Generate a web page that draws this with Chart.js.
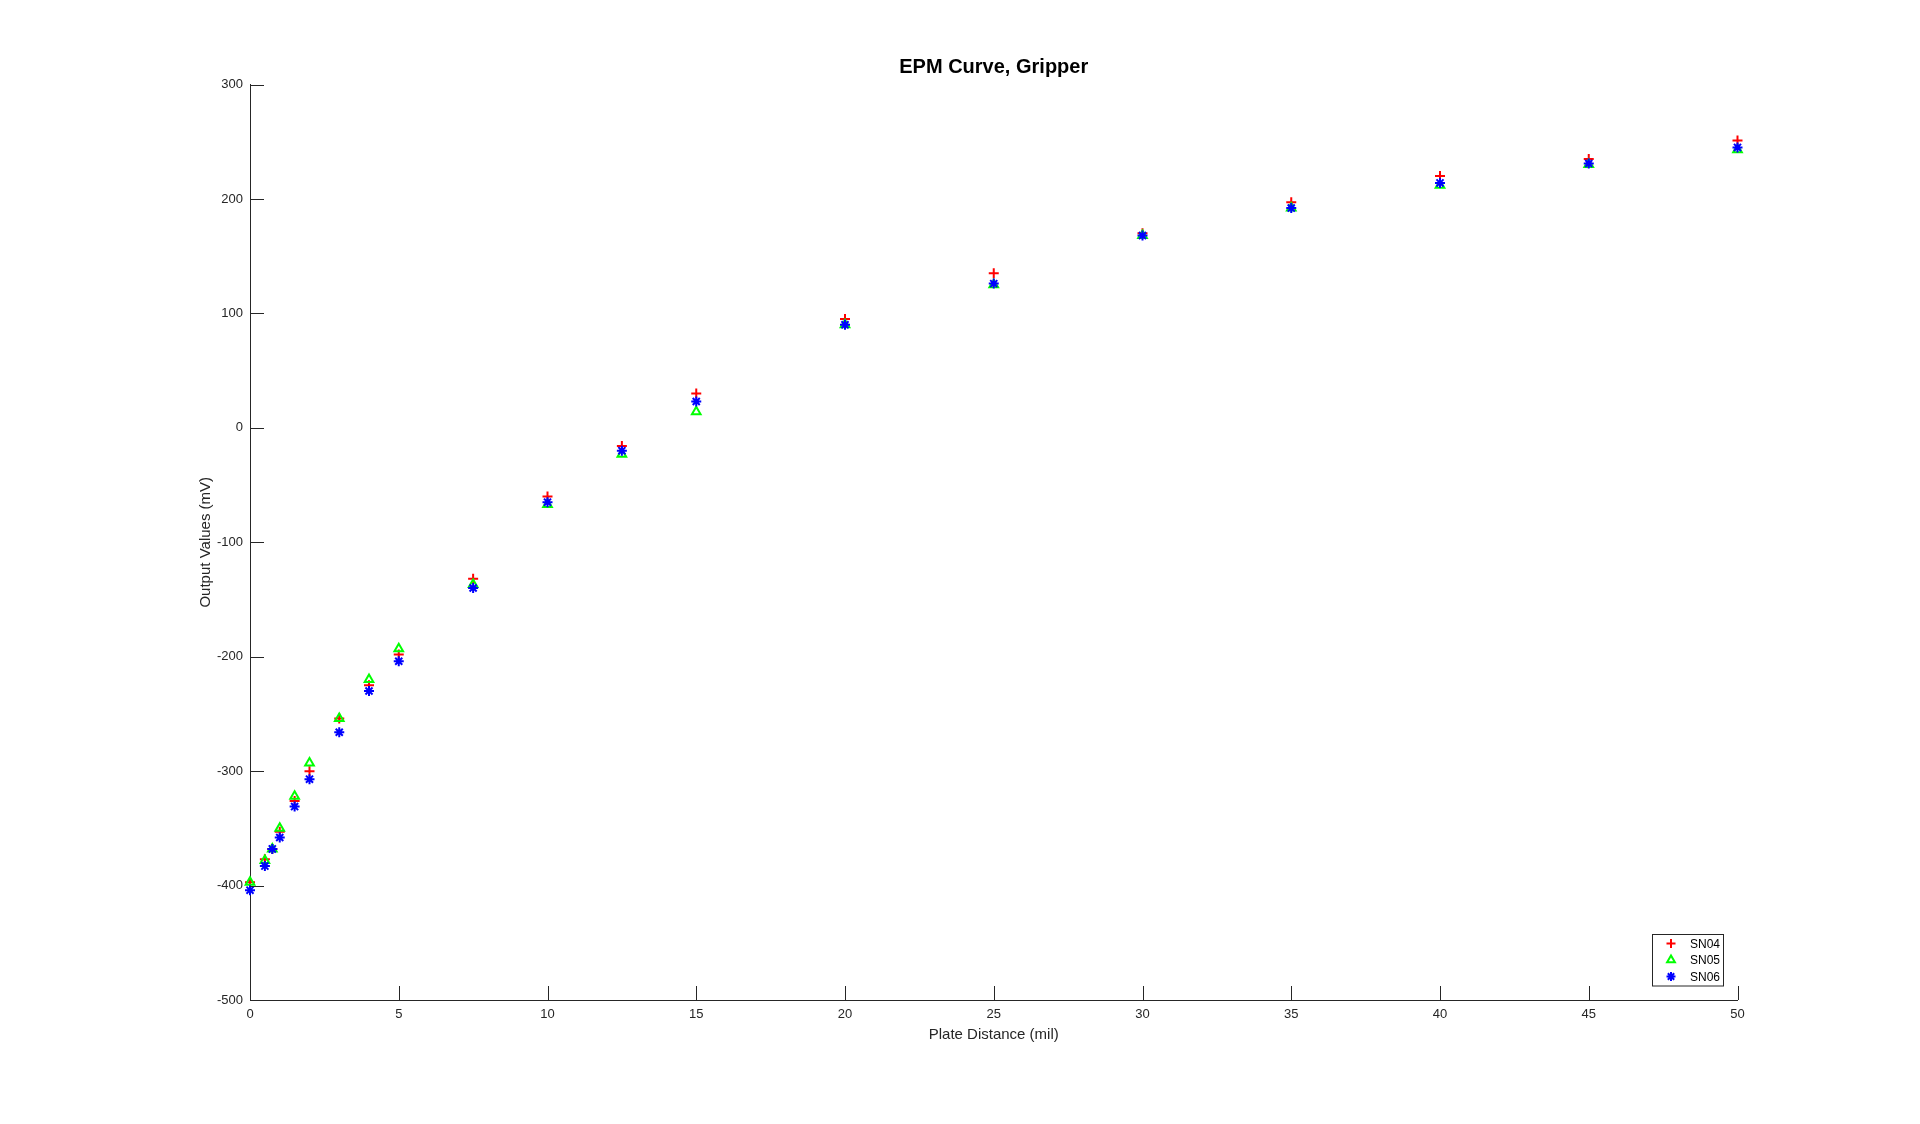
<!DOCTYPE html>
<html>
<head>
<meta charset="utf-8">
<title>EPM Curve, Gripper</title>
<script src="https://cdn.jsdelivr.net/npm/chart.js@4/dist/chart.umd.min.js"></script>
<style>
  html, body { margin: 0; padding: 0; background: #fff; }
  canvas { display: block; }
</style>
</head>
<body>
<canvas id="epmChart" width="1920" height="1124"></canvas>
<script>
// plate distance (mil)
const distances = [0, 0.5, 0.75, 1, 1.5, 2, 3, 4, 5, 7.5, 10, 12.5, 15, 20, 25, 30, 35, 40, 45, 50];

// output values (mV) per sensor
const sn04 = [-397, -377, -368, -353, -326, -300, -254, -225, -198, -132, -60, -16, 30, 95, 135, 170, 197, 220, 235, 251];
const sn05 = [-397, -378, -368, -350, -322, -293, -254, -220, -193, -137, -67, -23, 14, 90, 125, 168, 192, 212, 230, 243];
const sn06 = [-404, -383, -368, -358, -331, -307, -266, -230, -204, -140, -65, -20, 23, 90, 126, 168, 192, 214, 231, 245];

const xTicks = [0, 5, 10, 15, 20, 25, 30, 35, 40, 45, 50];
const yTicks = [-500, -400, -300, -200, -100, 0, 100, 200, 300];

const chartTitle = 'EPM Curve, Gripper';

const AXIS_COLOR = '#262626';
const TICK_LEN = 14;
const FONT = '"Liberation Sans", Arial, Helvetica, sans-serif';

function toPoints(values) {
    return distances.map((d, i) => ({ x: d, y: values[i] }));
}

// MATLAB style ticks that point into the plot area
const inwardTicks = {
    id: 'inwardTicks',
    afterDraw(chart) {
        const { ctx, chartArea: area, scales: { x, y } } = chart;
        ctx.save();
        ctx.strokeStyle = AXIS_COLOR;
        ctx.lineWidth = 1;
        ctx.beginPath();
        x.ticks.forEach(t => {
            const px = Math.round(x.getPixelForValue(t.value)) + 0.5;
            ctx.moveTo(px, area.bottom);
            ctx.lineTo(px, area.bottom - TICK_LEN);
        });
        y.ticks.forEach(t => {
            const py = Math.round(y.getPixelForValue(t.value)) + 0.5;
            ctx.moveTo(area.left, py);
            ctx.lineTo(area.left + TICK_LEN, py);
        });
        ctx.stroke();
        ctx.restore();
    }
};

// title centred over the axes, not over the whole canvas
const axesTitle = {
    id: 'axesTitle',
    afterDraw(chart) {
        const { ctx, chartArea: area } = chart;
        ctx.save();
        ctx.font = 'bold 20px ' + FONT;
        ctx.fillStyle = '#000';
        ctx.textAlign = 'center';
        ctx.textBaseline = 'middle';
        ctx.fillText(chartTitle, (area.left + area.right) / 2, area.top - 17.5);
        ctx.restore();
    }
};

// boxed legend in the lower right corner, inside the axes
const cornerLegend = {
    id: 'cornerLegend',
    afterDraw(chart) {
        const { ctx, chartArea: area } = chart;
        const sets = chart.data.datasets;
        const boxW = 71, rowH = 16.5;
        const boxH = rowH * sets.length + 2;
        const right = area.right - 14.5;
        const bottom = area.bottom - 15;
        const left = right - boxW, top = bottom - boxH;
        ctx.save();
        ctx.fillStyle = '#fff';
        ctx.fillRect(left, top, boxW, boxH);
        ctx.strokeStyle = AXIS_COLOR;
        ctx.lineWidth = 1;
        ctx.strokeRect(Math.round(left) + 0.5, Math.round(top) + 0.5, boxW, boxH);
        ctx.font = '12px ' + FONT;
        ctx.textBaseline = 'middle';
        sets.forEach((ds, i) => {
            const cy = top + 10 + i * rowH;
            ctx.strokeStyle = ds.borderColor;
            ctx.fillStyle = ds.backgroundColor;
            ctx.lineWidth = ds.borderWidth;
            Chart.helpers.drawPoint(ctx, { pointStyle: ds.pointStyle, radius: 4.5, rotation: 0, borderWidth: ds.borderWidth }, left + 19, cy);
            ctx.fillStyle = '#000';
            ctx.fillText(ds.label, left + 38, cy + 1);
        });
        ctx.restore();
    }
};

const scatterConfig = {
    type: 'scatter',
    data: {
        datasets: [
            {
                label: 'SN04',
                data: toPoints(sn04),
                pointStyle: 'cross',
                borderColor: '#ff0000',
                backgroundColor: '#ff0000',
                borderWidth: 2,
                pointRadius: 5,
                clip: false,
                order: 3
            },
            {
                label: 'SN05',
                data: toPoints(sn05),
                pointStyle: 'triangle',
                borderColor: '#00ff00',
                backgroundColor: 'rgba(0, 0, 0, 0)',
                borderWidth: 2,
                pointRadius: 5,
                clip: false,
                order: 2
            },
            {
                label: 'SN06',
                data: toPoints(sn06),
                pointStyle: 'star',
                borderColor: '#0000ff',
                backgroundColor: '#0000ff',
                borderWidth: 2,
                pointRadius: 5,
                clip: false,
                order: 1
            }
        ]
    },
    options: {
        responsive: false,
        animation: false,
        layout: {
            padding: { left: 0, right: 182.5, top: 84.5, bottom: 0 }
        },
        scales: {
            x: {
                type: 'linear',
                min: 0,
                max: 50,
                afterBuildTicks: scale => { scale.ticks = xTicks.map(v => ({ value: v })); },
                afterFit: scale => { scale.height = 124; },
                grid: { drawOnChartArea: false, drawTicks: false },
                border: { display: true, color: AXIS_COLOR, width: 1 },
                ticks: {
                    color: AXIS_COLOR,
                    padding: 7,
                    maxRotation: 0,
                    font: { family: FONT, size: 13 }
                },
                title: {
                    display: true,
                    text: 'Plate Distance (mil)',
                    color: AXIS_COLOR,
                    font: { family: FONT, size: 15 },
                    padding: { top: 0, bottom: 80 }
                }
            },
            y: {
                type: 'linear',
                min: -500,
                max: 300,
                afterBuildTicks: scale => { scale.ticks = yTicks.map(v => ({ value: v })); },
                afterFit: scale => { scale.width = 250; },
                grid: { drawOnChartArea: false, drawTicks: false },
                border: { display: true, color: AXIS_COLOR, width: 1 },
                ticks: {
                    color: AXIS_COLOR,
                    padding: 7,
                    font: { family: FONT, size: 13 }
                },
                title: {
                    display: true,
                    text: 'Output Values (mV)',
                    color: AXIS_COLOR,
                    font: { family: FONT, size: 15 },
                    padding: { top: 196.5, bottom: 0 }
                }
            }
        },
        plugins: {
            legend: { display: false },
            tooltip: { enabled: false },
            title: { display: false }
        }
    },
    plugins: [inwardTicks, axesTitle, cornerLegend]
};

const epmChart = new Chart(document.getElementById('epmChart').getContext('2d'), scatterConfig);
</script>
</body>
</html>
